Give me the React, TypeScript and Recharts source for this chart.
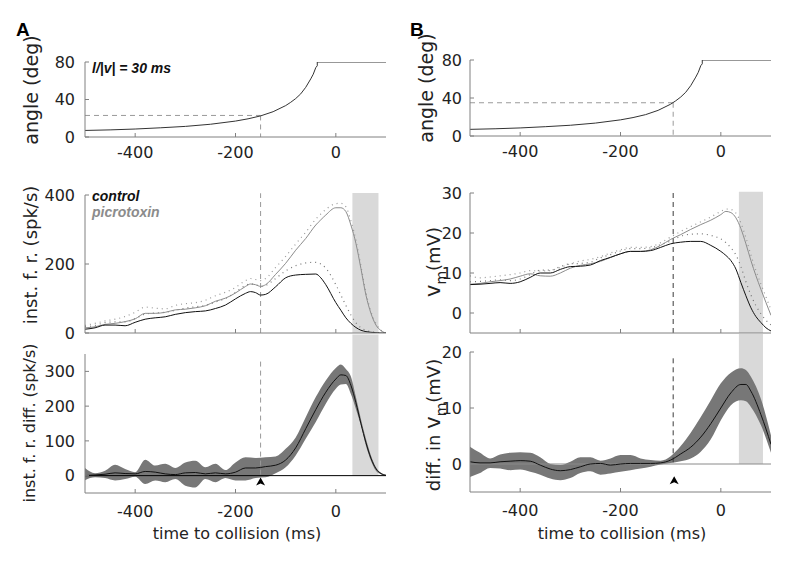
import React from "react";
import {
  ComposedChart,
  Line,
  Area,
  Scatter,
  XAxis,
  YAxis,
  ReferenceLine,
  ReferenceArea,
} from "recharts";

// ---- stimulus angle (both columns, l/|v| = 30 ms) ----
const angleTime = [-500, -450, -400, -350, -300, -250, -200, -175, -150, -125, -100, -90, -80, -70, -60, -50, -45, -40, -37, -37, 100];
const angleDeg = [7, 7.6, 8.5, 9.8, 11.3, 13.6, 17, 19.4, 22.5, 27, 33.5, 37, 41, 46, 53, 62, 67, 74, 76, 80, 80];

// ---- A: instantaneous firing rate ----
const frTime = [-500, -480, -460, -440, -420, -400, -380, -360, -340, -320, -300, -280, -260, -240, -220, -200, -180, -170, -160, -150, -140, -120, -100, -80, -60, -40, -30, -20, 0, 10, 20, 30, 40, 50, 60, 70, 80, 90, 100];
const frControl = [11, 15, 23, 23, 21, 31, 40, 44, 47, 54, 59, 62, 64, 71, 81, 99, 115, 120, 117, 110, 112, 134, 160, 168, 170, 171, 160, 140, 88, 66, 44, 28, 16, 8, 4, 2, 1, 0, 0];
const frPicro = [15, 18, 25, 28, 33, 41, 57, 57, 60, 67, 69, 73, 79, 92, 101, 116, 135, 142, 140, 135, 140, 170, 202, 240, 274, 313, 328, 342, 363, 363, 352, 313, 260, 187, 110, 57, 23, 7, 0];
const frControlSem = [18, 22, 30, 32, 32, 42, 55, 58, 60, 66, 72, 76, 80, 90, 100, 118, 138, 142, 140, 135, 138, 158, 180, 195, 203, 205, 200, 188, 140, 110, 80, 52, 30, 15, 8, 4, 2, 1, 0];
const frPicroSem = [22, 28, 35, 40, 48, 60, 75, 72, 70, 80, 85, 88, 95, 108, 118, 132, 152, 158, 155, 152, 158, 190, 222, 258, 292, 330, 345, 358, 375, 376, 366, 325, 270, 195, 118, 62, 27, 8, 0];

// ---- A: firing rate difference ----
const frDiffTime = [-500, -480, -460, -440, -420, -400, -380, -360, -340, -320, -300, -280, -260, -240, -220, -200, -180, -160, -140, -120, -100, -80, -60, -40, -20, 0, 10, 20, 30, 40, 50, 60, 70, 80, 90, 100];
const frDiffMean = [0, 2, 4, 8, 6, 5, 12, 10, 5, 3, 8, 9, 5, 8, 5, 10, 22, 22, 26, 30, 45, 80, 135, 190, 240, 278, 290, 288, 260, 210, 150, 95, 50, 20, 6, 1];
const frDiffHigh = [22, 7, 14, 31, 19, 10, 46, 29, 34, 22, 38, 43, 24, 34, 16, 38, 53, 51, 53, 55, 77, 110, 168, 226, 274, 310, 320, 307, 285, 226, 163, 106, 58, 24, 8, 2];
const frDiffLow = [-13, -5, -7, -14, -10, -3, -24, -14, -19, -10, -29, -34, -10, -19, -7, -14, -14, -7, -5, 7, 24, 58, 106, 154, 207, 250, 262, 264, 235, 192, 144, 86, 43, 14, 4, 0];

// ---- B: membrane potential ----
const vmTime = [-500, -480, -460, -440, -420, -400, -380, -360, -340, -320, -300, -280, -260, -240, -220, -200, -180, -160, -140, -120, -100, -80, -60, -40, -20, 0, 10, 20, 30, 40, 50, 60, 70, 80, 90, 100];
const vmControl = [7.1, 7.2, 7.4, 7.6, 7.4, 7.8, 8.9, 10.0, 10.0, 10.9, 11.6, 11.7, 12.0, 13.1, 13.9, 14.8, 15.4, 15.4, 15.6, 16.4, 17.3, 17.7, 17.9, 17.9, 16.9, 15.4, 14.4, 13.1, 11.0, 7.6, 4.3, 1.3, -0.9, -2.4, -3.7, -4.5];
const vmPicro = [7.2, 7.4, 7.8, 8.1, 8.5, 9.2, 9.8, 9.3, 9.2, 10.0, 11.2, 11.9, 12.3, 12.9, 13.9, 14.8, 15.4, 15.4, 15.8, 16.9, 18.4, 19.6, 20.9, 22.1, 23.2, 24.6, 25.4, 25.1, 23.8, 21.1, 17.3, 13.1, 9.3, 5.9, 2.6, -0.6];
const vmControlSem = [7.8, 7.9, 8.1, 8.3, 8.1, 8.5, 9.6, 10.7, 10.7, 11.6, 12.3, 12.4, 12.7, 13.8, 14.6, 15.5, 16.1, 16.1, 16.3, 17.1, 18.0, 19.2, 19.7, 19.8, 19.4, 18.5, 17.6, 16.3, 14.5, 11.6, 7.8, 4.5, 1.8, -0.2, -1.8, -3.0];
const vmPicroSem = [9.3, 8.8, 9.0, 9.3, 9.6, 10.0, 10.6, 10.5, 10.6, 11.4, 12.3, 13.0, 13.4, 14.1, 15.0, 15.8, 16.4, 16.4, 16.6, 17.6, 19.0, 20.4, 21.6, 22.8, 24.0, 25.4, 26.0, 25.9, 25.0, 22.5, 18.8, 14.5, 10.6, 7.2, 4.0, 0.8];

// ---- B: difference in Vm ----
const vmDiffTime = [-500, -480, -460, -440, -420, -400, -380, -360, -340, -320, -300, -280, -260, -240, -220, -200, -180, -160, -140, -120, -100, -80, -60, -40, -20, 0, 20, 40, 50, 60, 80, 100];
const vmDiffMean = [0.4, 0.2, 0.2, 0.4, 0.5, 0.6, 0.5, -0.2, -0.9, -1.2, -1.0, -0.5, 0, 0.1, -0.2, 0, 0.1, 0.1, 0.1, 0.2, 0.7, 1.8, 3.0, 4.8, 7.2, 10.0, 12.7, 14.2, 14.2, 13.0, 8.8, 3.5];
const vmDiffHigh = [3.1, 2.0, 1.0, 1.7, 2.0, 2.1, 2.0, 1.2, 0, -0.2, 0.4, 1.2, 1.2, 0.6, 1.0, 1.6, 1.6, 1.0, 0.7, 0.6, 1.4, 3.2, 5.6, 8.4, 11.4, 14.4, 16.3, 17.1, 16.8, 15.6, 11.6, 5.1];
const vmDiffLow = [-2.3, -1.6, -0.7, -0.8, -1.1, -1.0, -1.4, -1.9, -2.6, -2.9, -2.5, -1.6, -1.3, -1.9, -1.7, -1.4, -1.1, -0.8, -0.5, -0.1, 0.2, 0.5, 1.0, 2.2, 4.4, 7.8, 10.5, 11.4, 11.2, 10.2, 6.9, 2.0];

// ---- ticks and markers ----
const xTicks = [-400, -200, 0];
const angleTicks = [0, 40, 80];
const frTicks = [0, 200, 400];
const frDiffTicks = [0, 100, 200, 300];
const vmTicks = [0, 10, 20, 30];
const vmDiffTicks = [0, 10, 20];

const thresholdA = -150;
const thresholdB = -95;
const angleAtA = 23;
const angleAtB = 35;
const shadeA = [33, 85];
const shadeB = [36, 84];
const arrowA = [{ t: -150, y: -17 }];
const arrowB = [{ t: -93, y: -2.9 }];

const angleData = angleTime.map((t, i) => ({ t, angle: angleDeg[i] }));
const frData = frTime.map((t, i) => ({
  t,
  control: frControl[i],
  picro: frPicro[i],
  controlSem: frControlSem[i],
  picroSem: frPicroSem[i],
}));
const frDiffData = frDiffTime.map((t, i) => ({
  t,
  mean: frDiffMean[i],
  band: [frDiffLow[i], frDiffHigh[i]],
}));
const vmData = vmTime.map((t, i) => ({
  t,
  control: vmControl[i],
  picro: vmPicro[i],
  controlSem: vmControlSem[i],
  picroSem: vmPicroSem[i],
}));
const vmDiffData = vmDiffTime.map((t, i) => ({
  t,
  mean: vmDiffMean[i],
  band: [vmDiffLow[i], vmDiffHigh[i]],
}));

const AX = "#808080";
const ML = 60;
const MT = 30;
const MR = 12;
const XH = 44;

function Panel({ x, y, w, h, data, yDomain, yTicks, xLabels, xGap, yGap, children }: any) {
  return (
    <div style={{ position: "absolute", left: x - ML, top: y - MT }}>
      <ComposedChart
        width={ML + w + MR}
        height={MT + h + XH}
        data={data}
        margin={{ top: MT, right: MR, bottom: 0, left: 0 }}
      >
        <XAxis
          type="number"
          dataKey="t"
          domain={[-500, 100]}
          ticks={xTicks}
          allowDataOverflow
          height={XH}
          stroke={AX}
          tickSize={-4}
          tickMargin={xGap}
          tick={{ fontSize: 16, fill: "#222" }}
          tickFormatter={(v: any) => (xLabels ? String(v) : "")}
        />
        <YAxis
          type="number"
          domain={yDomain}
          ticks={yTicks}
          allowDataOverflow
          width={ML}
          stroke={AX}
          tickSize={-4}
          tickMargin={yGap}
          tick={{ fontSize: 16, fill: "#222" }}
        />
        {children}
      </ComposedChart>
    </div>
  );
}

const arrowShape = (p: any) => (
  <path
    d={`M${p.cx},${p.cy - 4} L${p.cx + 4.5},${p.cy + 4} L${p.cx},${p.cy + 2} L${p.cx - 4.5},${p.cy + 4} Z`}
    fill="#000"
  />
);

export default function App() {
  const dashA = "#9a9a9a";
  const dashB = "#3a3a3a";
  const shade = "#d9d9d9";
  return (
    <div
      style={{
        position: "absolute",
        left: 0,
        top: 0,
        width: 800,
        height: 571,
        background: "#fff",
        overflow: "hidden",
        fontFamily: "'DejaVu Sans', sans-serif",
      }}
    >
      {/* A: angle */}
      <Panel x={85} y={62} w={301} h={75} data={angleData} yDomain={[0, 80]} yTicks={angleTicks} xLabels xGap={14} yGap={14}>
        <ReferenceLine segment={[{ x: -500, y: angleAtA }, { x: thresholdA, y: angleAtA }]} stroke={dashA} strokeDasharray="5 4" ifOverflow="visible" />
        <ReferenceLine segment={[{ x: thresholdA, y: angleAtA }, { x: thresholdA, y: 0 }]} stroke={dashA} strokeDasharray="5 4" ifOverflow="visible" />
        <Line dataKey="angle" type="linear" stroke="#333" strokeWidth={1} dot={false} isAnimationActive={false} />
      </Panel>

      {/* A: firing rate */}
      <Panel x={85} y={195} w={301} h={138} data={frData} yDomain={[0, 400]} yTicks={frTicks} xLabels={false} xGap={14} yGap={14}>
        <ReferenceArea x1={shadeA[0]} x2={shadeA[1]} y1={0} y2={406} fill={shade} fillOpacity={1} stroke="none" ifOverflow="visible" />
        <ReferenceLine segment={[{ x: thresholdA, y: 0 }, { x: thresholdA, y: 405 }]} stroke={dashA} strokeDasharray="5 4" ifOverflow="visible" />
        <Line dataKey="picroSem" type="monotone" stroke="#9a9a9a" strokeWidth={1.2} strokeDasharray="1 4" dot={false} isAnimationActive={false} />
        <Line dataKey="controlSem" type="monotone" stroke="#777" strokeWidth={1.2} strokeDasharray="1 4" dot={false} isAnimationActive={false} />
        <Line dataKey="picro" type="monotone" stroke="#8c8c8c" strokeWidth={1} dot={false} isAnimationActive={false} />
        <Line dataKey="control" type="monotone" stroke="#111" strokeWidth={1} dot={false} isAnimationActive={false} />
      </Panel>

      {/* A: difference */}
      <Panel x={85} y={354} w={301} h={139} data={frDiffData} yDomain={[-50, 350]} yTicks={frDiffTicks} xLabels xGap={17} yGap={14}>
        <ReferenceArea x1={shadeA[0]} x2={shadeA[1]} y1={0} y2={406} fill={shade} fillOpacity={1} stroke="none" ifOverflow="visible" />
        <Area dataKey="band" type="monotone" fill="#777" fillOpacity={1} stroke="none" isAnimationActive={false} />
        <ReferenceLine y={0} stroke="#000" strokeWidth={1} />
        <ReferenceLine segment={[{ x: thresholdA, y: 3 }, { x: thresholdA, y: 330 }]} stroke={dashA} strokeDasharray="5 4" ifOverflow="visible" />
        <Line dataKey="mean" type="monotone" stroke="#111" strokeWidth={1} dot={false} isAnimationActive={false} />
        <Scatter data={arrowA} dataKey="y" shape={arrowShape} isAnimationActive={false} />
      </Panel>

      {/* B: angle */}
      <Panel x={470} y={60} w={301} h={76} data={angleData} yDomain={[0, 80]} yTicks={angleTicks} xLabels xGap={14} yGap={12}>
        <ReferenceLine segment={[{ x: -500, y: angleAtB }, { x: thresholdB, y: angleAtB }]} stroke={dashA} strokeDasharray="5 4" ifOverflow="visible" />
        <ReferenceLine segment={[{ x: thresholdB, y: angleAtB }, { x: thresholdB, y: 0 }]} stroke={dashA} strokeDasharray="5 4" ifOverflow="visible" />
        <Line dataKey="angle" type="linear" stroke="#333" strokeWidth={1} dot={false} isAnimationActive={false} />
      </Panel>

      {/* B: membrane potential */}
      <Panel x={470} y={193} w={301} h={140} data={vmData} yDomain={[-5, 30]} yTicks={vmTicks} xLabels={false} xGap={14} yGap={12}>
        <ReferenceArea x1={shadeB[0]} x2={shadeB[1]} y1={-5} y2={30.3} fill={shade} fillOpacity={1} stroke="none" ifOverflow="visible" />
        <ReferenceLine segment={[{ x: thresholdB, y: -5 }, { x: thresholdB, y: 30.3 }]} stroke={dashB} strokeDasharray="5 4" ifOverflow="visible" />
        <Line dataKey="picroSem" type="monotone" stroke="#9a9a9a" strokeWidth={1.2} strokeDasharray="1 4" dot={false} isAnimationActive={false} />
        <Line dataKey="controlSem" type="monotone" stroke="#777" strokeWidth={1.2} strokeDasharray="1 4" dot={false} isAnimationActive={false} />
        <Line dataKey="picro" type="monotone" stroke="#8c8c8c" strokeWidth={1} dot={false} isAnimationActive={false} />
        <Line dataKey="control" type="monotone" stroke="#111" strokeWidth={1} dot={false} isAnimationActive={false} />
      </Panel>

      {/* B: difference */}
      <Panel x={470} y={352} w={301} h={140} data={vmDiffData} yDomain={[-5, 20]} yTicks={vmDiffTicks} xLabels xGap={17} yGap={12}>
        <ReferenceArea x1={shadeB[0]} x2={shadeB[1]} y1={0} y2={23.2} fill={shade} fillOpacity={1} stroke="none" ifOverflow="visible" />
        <Area dataKey="band" type="monotone" fill="#777" fillOpacity={1} stroke="none" isAnimationActive={false} />
        <ReferenceLine y={0} stroke="#8a8a8a" strokeWidth={1} />
        <ReferenceLine segment={[{ x: thresholdB, y: 0.3 }, { x: thresholdB, y: 19.5 }]} stroke={dashB} strokeDasharray="5 4" ifOverflow="visible" />
        <Line dataKey="mean" type="monotone" stroke="#111" strokeWidth={1} dot={false} isAnimationActive={false} />
        <Scatter data={arrowB} dataKey="y" shape={arrowShape} isAnimationActive={false} />
      </Panel>

      {/* labels */}
      <svg width={800} height={571} style={{ position: "absolute", left: 0, top: 0, pointerEvents: "none" }}>
        <g fontFamily="'Liberation Sans', Arial, sans-serif" fontWeight="bold">
          <text x={16} y={36} fontSize={19}>A</text>
          <text x={410} y={36} fontSize={19}>B</text>
          <text x={92} y={73} fontSize={14} fontStyle="italic" fill="#111">l/|v| = 30 ms</text>
          <text x={92} y={201} fontSize={14} fontStyle="italic" fill="#111">control</text>
          <text x={92} y={217} fontSize={14} fontStyle="italic" fill="#8c8c8c">picrotoxin</text>
        </g>
        <g fontFamily="'DejaVu Sans', sans-serif" fill="#222" textAnchor="middle">
          <text x={38} y={90} fontSize={19} transform="rotate(-90 38 90)">angle (deg)</text>
          <text x={37} y={255} fontSize={18} transform="rotate(-90 37 255)">inst. f. r. (spk/s)</text>
          <text x={35} y={423} fontSize={16} transform="rotate(-90 35 423)">inst. f. r. diff. (spk/s)</text>
          <text x={433} y={88} fontSize={19} transform="rotate(-90 433 88)">angle (deg)</text>
          <text x={440} y={262} fontSize={18} transform="rotate(-90 440 262)">
            <tspan fontSize={21}>v</tspan>
            <tspan fontSize={14} dy={6}>m</tspan>
            <tspan dy={-6}>(mV)</tspan>
          </text>
          <text x={440} y={425} fontSize={18} transform="rotate(-90 440 425)">
            diff. in <tspan fontSize={21}>v</tspan>
            <tspan fontSize={14} dy={6}>m</tspan>
            <tspan dy={-6}>(mV)</tspan>
          </text>
          <text x={237} y={539} fontSize={16}>time to collision (ms)</text>
          <text x={622} y={539} fontSize={16}>time to collision (ms)</text>
        </g>
      </svg>
    </div>
  );
}
